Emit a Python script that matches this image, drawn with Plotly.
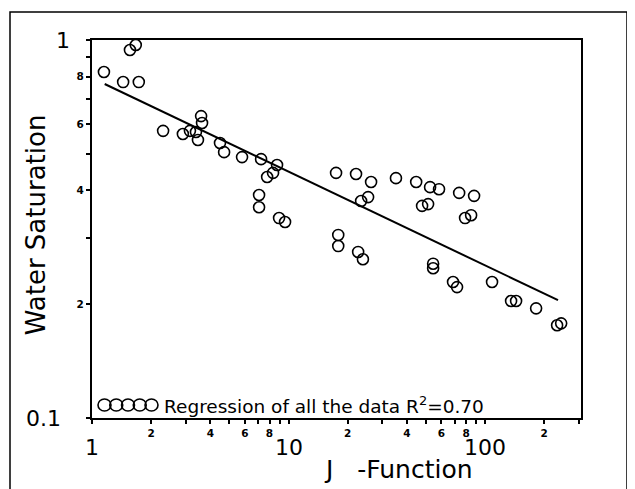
import math
import plotly.graph_objects as go

# ---- data ----
j_function = [1.15, 1.56, 1.67, 1.44, 1.73, 2.30, 2.90, 3.15, 3.38, 3.46, 3.59, 3.63,
              4.48, 4.70, 5.80, 7.25, 8.74, 8.34, 7.78, 7.08, 7.08, 8.95, 9.60,
              17.45, 17.9, 17.9, 22.05, 26.3, 23.4, 25.4, 35.2, 44.6, 52.5, 58.3,
              73.8, 87.9, 47.8, 51.3, 79.1, 84.9, 22.6, 23.9, 54.4, 54.4, 68.7, 72.0,
              108.5, 135.6, 143.8, 181.8, 232.5, 243.8]
water_saturation = [0.823, 0.941, 0.970, 0.774, 0.774, 0.575, 0.564, 0.575, 0.571, 0.544, 0.629, 0.603,
                    0.534, 0.505, 0.490, 0.484, 0.467, 0.445, 0.434, 0.389, 0.361, 0.338, 0.330,
                    0.445, 0.305, 0.285, 0.442, 0.421, 0.375, 0.384, 0.431, 0.421, 0.408, 0.403,
                    0.394, 0.387, 0.364, 0.368, 0.338, 0.344, 0.275, 0.263, 0.256, 0.249, 0.229, 0.222,
                    0.229, 0.204, 0.204, 0.195, 0.176, 0.178]

fit_j = [1.16, 235.0]
fit_sw = [0.765, 0.205]

x_tickvals = [1, 2, 3, 4, 5, 6, 7, 8, 9, 10, 20, 30, 40, 50, 60, 70, 80, 90, 100, 200, 300]
x_ticktext = ["", "2", "", "4", "", "6", "", "8", "", "", "2", "", "4", "", "6", "", "8", "", "", "2", ""]
x_major_vals = [1, 10, 100]
x_major_text = ["1", "10", "100"]

y_tickvals = [0.1, 0.2, 0.3, 0.4, 0.5, 0.6, 0.7, 0.8, 0.9, 1.0]
y_ticktext = ["", "2", "", "4", "", "6", "", "8", "", ""]
y_major_vals = [1.0, 0.1]
y_major_text = ["1", "0.1"]

legend_text = "Regression of all the data R<sup>2</sup>=0.70"

fig = go.Figure()
fig.add_trace(go.Scatter(
    x=j_function, y=water_saturation, mode="markers",
    marker=dict(symbol="circle-open", size=11, color="black", line=dict(width=1.6, color="black")),
    showlegend=False, cliponaxis=False))
fig.add_trace(go.Scatter(
    x=fit_j, y=fit_sw, mode="lines", line=dict(color="black", width=2), showlegend=False))

axis_font = dict(family="DejaVu Sans", size=10.5, color="black", weight="bold")
fig.update_xaxes(type="log", range=[0, 2.488], showgrid=False, zeroline=False,
                 showline=True, linecolor="black", linewidth=2, mirror=True,
                 ticks="outside", ticklen=4, tickwidth=1.5, tickcolor="black",
                 tickvals=x_tickvals, ticktext=x_ticktext, tickfont=axis_font)
fig.update_yaxes(type="log", range=[-1, 0], showgrid=False, zeroline=False,
                 showline=True, linecolor="black", linewidth=2, mirror=True,
                 ticks="outside", ticklen=4, tickwidth=1.5, tickcolor="black",
                 tickvals=y_tickvals, ticktext=y_ticktext, tickfont=axis_font)

annotations = []
for v, t in zip(x_major_vals, x_major_text):
    annotations.append(dict(x=math.log10(v), xref="x", y=(418 - 447) / 378, yref="paper", text=t,
                            showarrow=False, font=dict(family="DejaVu Sans", size=22, color="black"),
                            xanchor="center", yanchor="middle"))
y_major_x = [-0.041, -0.059]
for v, t, px in zip(y_major_vals, y_major_text, y_major_x):
    annotations.append(dict(x=px, xref="paper", y=math.log10(v), yref="y", text=t,
                            showarrow=False, font=dict(family="DejaVu Sans", size=22, color="black"),
                            xanchor="right", yanchor="middle"))
annotations.append(dict(x=-0.114, xref="paper", y=(418 - 225) / 378, yref="paper", text="Water Saturation",
                        textangle=-90, showarrow=False, font=dict(family="DejaVu Sans", size=26, color="black"),
                        xanchor="center", yanchor="middle"))
annotations.append(dict(x=(398 - 92) / 489, xref="paper", y=(418 - 469) / 378, yref="paper",
                        text="J\u00a0\u00a0\u00a0-Function",
                        showarrow=False, font=dict(family="DejaVu Sans", size=25, color="black"),
                        xanchor="center", yanchor="middle"))
annotations.append(dict(x=(162 - 92) / 489, xref="paper", y=(418 - 405) / 378, yref="paper", text=legend_text,
                        showarrow=False, font=dict(family="DejaVu Sans", size=18.5, color="black"),
                        xanchor="left", yanchor="middle"))

shapes = []
# legend sample symbols (five overlapping circles)
for i in range(5):
    cx = (104.5 + 11.75 * i - 92) / 489
    cy = (418 - 405) / 378
    shapes.append(dict(type="circle", xref="paper", yref="paper",
                       x0=cx - 6.5 / 489, x1=cx + 6.5 / 489, y0=cy - 6 / 378, y1=cy + 6 / 378,
                       line=dict(color="black", width=1.6)))
# outer frame
shapes.append(dict(type="rect", xref="paper", yref="paper",
                   x0=(10 - 92) / 489, x1=(627 - 92) / 489, y0=-0.3, y1=(418 - 12) / 378,
                   line=dict(color="black", width=1.5)))

# the page body adds an 8px offset, so margins are shifted to compensate
fig.update_layout(width=635, height=489, margin=dict(l=84, r=62, t=32, b=79),
                  paper_bgcolor="white", plot_bgcolor="white",
                  annotations=annotations, shapes=shapes, showlegend=False)

fig.write_html("out.html")
